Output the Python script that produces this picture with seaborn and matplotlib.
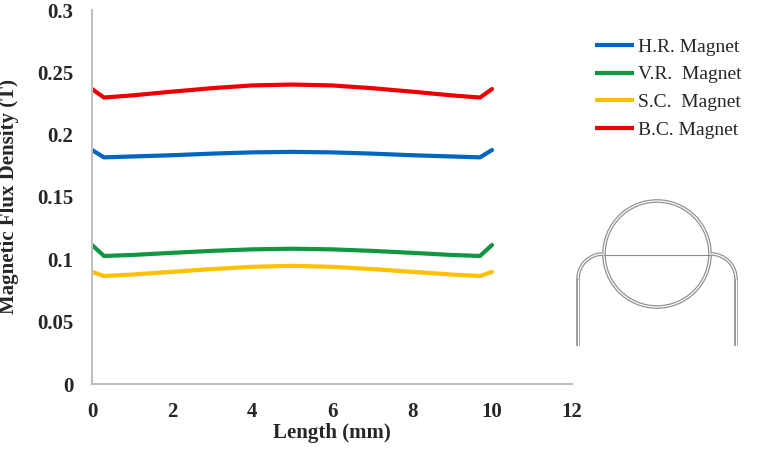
import pandas as pd
import seaborn as sns
import matplotlib.pyplot as plt
from matplotlib.patches import Circle, Arc

# data
length_mm = [0, 0.3, 1, 2, 3, 4, 5, 6, 7, 8, 9, 9.7, 10]
hr_magnet = [0.1877, 0.1818, 0.1825, 0.1835, 0.1848, 0.1858, 0.1862, 0.1858, 0.1848, 0.1835, 0.1825, 0.1818, 0.1877]
vr_magnet = [0.1115, 0.1027, 0.1035, 0.1052, 0.1068, 0.1080, 0.1085, 0.1080, 0.1068, 0.1052, 0.1035, 0.1027, 0.1115]
sc_magnet = [0.0900, 0.0866, 0.0878, 0.0900, 0.0922, 0.0940, 0.0948, 0.0940, 0.0922, 0.0900, 0.0878, 0.0866, 0.0900]
bc_magnet = [0.2366, 0.2298, 0.2315, 0.2345, 0.2373, 0.2395, 0.2402, 0.2395, 0.2373, 0.2345, 0.2315, 0.2298, 0.2366]

labels = ['H.R. Magnet', 'V.R.  Magnet', 'S.C.  Magnet', 'B.C. Magnet']
colors = ['#0066C0', '#0E9640', '#FFC000', '#EE0000']

df = pd.concat([
    pd.DataFrame({'Length': length_mm, 'B': vals, 'Magnet': lab})
    for vals, lab in zip([hr_magnet, vr_magnet, sc_magnet, bc_magnet], labels)
])

sns.set_style('white')
plt.rcParams['font.family'] = ['Liberation Serif', 'DejaVu Serif']

fig = plt.figure(figsize=(7.57, 4.51), dpi=100)
ax = fig.add_axes([92/757, 67/451, 480/757, 374/451])

sns.lineplot(data=df, x='Length', y='B', hue='Magnet', hue_order=labels,
             palette=colors, linewidth=3, ax=ax, sort=False, legend=False)

ax.set_xlim(0, 12)
ax.set_ylim(0, 0.3)
ax.set_xticks(range(0, 13, 2))
ax.set_yticks([0, 0.05, 0.1, 0.15, 0.2, 0.25, 0.3])
ax.set_yticklabels(['0', '0.05', '0.1', '0.15', '0.2', '0.25', '0.3'])
ax.tick_params(length=0, labelsize=15)
ax.tick_params(axis='y', pad=13.5)
ax.tick_params(axis='x', pad=13)
for t in ax.get_xticklabels() + ax.get_yticklabels():
    t.set_fontweight('bold')

for s in ['top', 'right']:
    ax.spines[s].set_visible(False)
for s in ['left', 'bottom']:
    ax.spines[s].set_color('#bfbfbf')
    ax.spines[s].set_linewidth(1.5)

ax.set_xlabel('Length (mm)', fontsize=15, fontweight='bold')
ax.set_ylabel('Magnetic Flux Density (T)', fontsize=15, fontweight='bold')
ax.xaxis.set_label_coords(0.5, -0.105)
ax.yaxis.set_label_coords(-0.152, 0.5)

# legend
handles = [plt.Line2D([], [], color=c, lw=3, solid_capstyle='butt') for c in colors]
ax.legend(handles, labels, loc='upper left', bbox_to_anchor=(595/757, 1 - 38/451),
          bbox_transform=fig.transFigure, frameon=False, fontsize=14,
          handlelength=2.0, handletextpad=0.2, labelspacing=0.52,
          borderaxespad=0, borderpad=0)

# small sketch of the magnet on the right
dax = fig.add_axes([570/757, 101/451, 175/757, 155/451])
dax.set_xlim(570, 745)
dax.set_ylim(350, 195)
dax.axis('off')
for lw, col in [(2.6, '#8c8c8c'), (0.9, 'white')]:
    dax.add_patch(Circle((657, 254), 53, fill=False, lw=lw, ec=col))
    dax.add_patch(Arc((603, 279), 50, 50, theta1=180, theta2=270, lw=lw, ec=col))
    dax.add_patch(Arc((711, 279), 50, 50, theta1=270, theta2=360, lw=lw, ec=col))
    dax.plot([578, 578], [279, 346], lw=lw, color=col, solid_capstyle='butt')
    dax.plot([736, 736], [279, 346], lw=lw, color=col, solid_capstyle='butt')
dax.plot([604, 710], [255, 255], lw=0.8, color='#8c8c8c')

fig.savefig('out.png', dpi=100)
